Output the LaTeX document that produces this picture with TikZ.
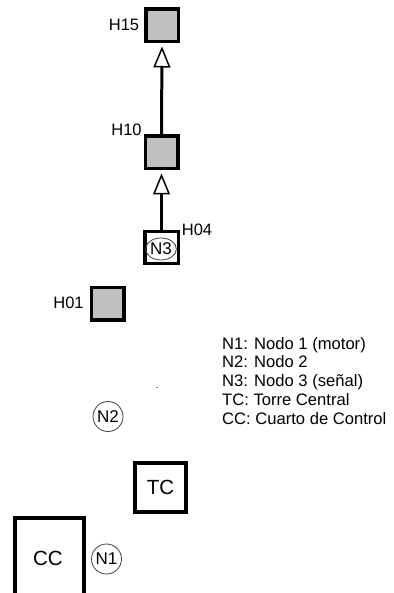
\documentclass[tikz,border=0pt]{standalone}
\usepackage{fontspec}
\setmainfont{Liberation Sans}
\usetikzlibrary{arrows.meta,shapes.geometric}
\definecolor{boxgray}{HTML}{C0C0C0}
\definecolor{ringgray}{HTML}{404040}
\begin{document}
\begin{tikzpicture}[x=1pt,y=-1pt,
  hbox/.style={draw=black,line width=3.5pt,fill=boxgray,inner sep=0pt,minimum width=32.5pt,minimum height=32.5pt},
  bigbox/.style={draw=black,line width=4pt,fill=white,inner sep=0pt,font=\fontsize{20.5}{24}\selectfont},
  lbl/.style={inner sep=0pt,font=\fontsize{16.5}{18.75}\selectfont},
  ring/.style={draw=ringgray,line width=0.8pt,circle,inner sep=0pt,minimum size=30pt,font=\fontsize{17}{19}\selectfont},
  legline/.style={inner sep=0pt,anchor=base west,font=\fontsize{16.6}{18.75}\selectfont},
  uparrow/.style={line width=3pt,-{Triangle[open,length=21pt,width=17pt,line width=1.5pt]},shorten >=3pt}
]
\useasboundingbox (0,0) rectangle (393,593);
% H boxes
\node[hbox] (H15) at (162,25.5) {};
\node[hbox] (H10) at (161.5,152.5) {};
\node[hbox,fill=white,minimum width=33.5pt,minimum height=31.5pt] (H04) at (161.5,247.5) {};
\node[hbox] (H01) at (107.5,303.5) {};
\node[draw=ringgray,line width=0.8pt,ellipse,inner sep=0pt,minimum width=28pt,minimum height=22pt,font=\fontsize{17}{19}\selectfont] (N3) at (161,249) {N3};
% labels
\node[lbl] (lH15) at (124,25) {H15};
\node[lbl] (lH10) at (126.5,130) {H10};
\node[lbl] (lH04) at (197,230) {H04};
\node[lbl] (lH01) at (68.5,303) {H01};
% arrows
\draw[uparrow] (H10.north) -- (H15.south);
\draw[uparrow] (H04.north) -- (H10.south);
% big boxes
\node[bigbox,minimum width=51pt,minimum height=49pt] (TC) at (160.5,487.5) {TC};
\node[bigbox,minimum width=69pt,minimum height=82pt] (CC) at (49.5,559) {};
\node[lbl,font=\fontsize{20.5}{24}\selectfont] (CCt) at (48,558) {CC};
% rings
\node[ring] (N2) at (108,416.5) {N2};
\node[ring] (N1) at (106.5,559) {N1};
% stray dot
\fill[gray] (155.5,386.5) rectangle (157.5,388);
% legend
\node[legline] (L1) at (222,349) {N1: Nodo 1 (motor)};
\node[legline] (L2) at (222,367.75) {N2: Nodo 2};
\node[legline] (L3) at (222,386.5) {N3: Nodo 3 (señal)};
\node[legline] (L4) at (222,405.25) {TC: Torre Central};
\node[legline] (L5) at (222,424) {CC: Cuarto de Control};
\end{tikzpicture}
\end{document}
